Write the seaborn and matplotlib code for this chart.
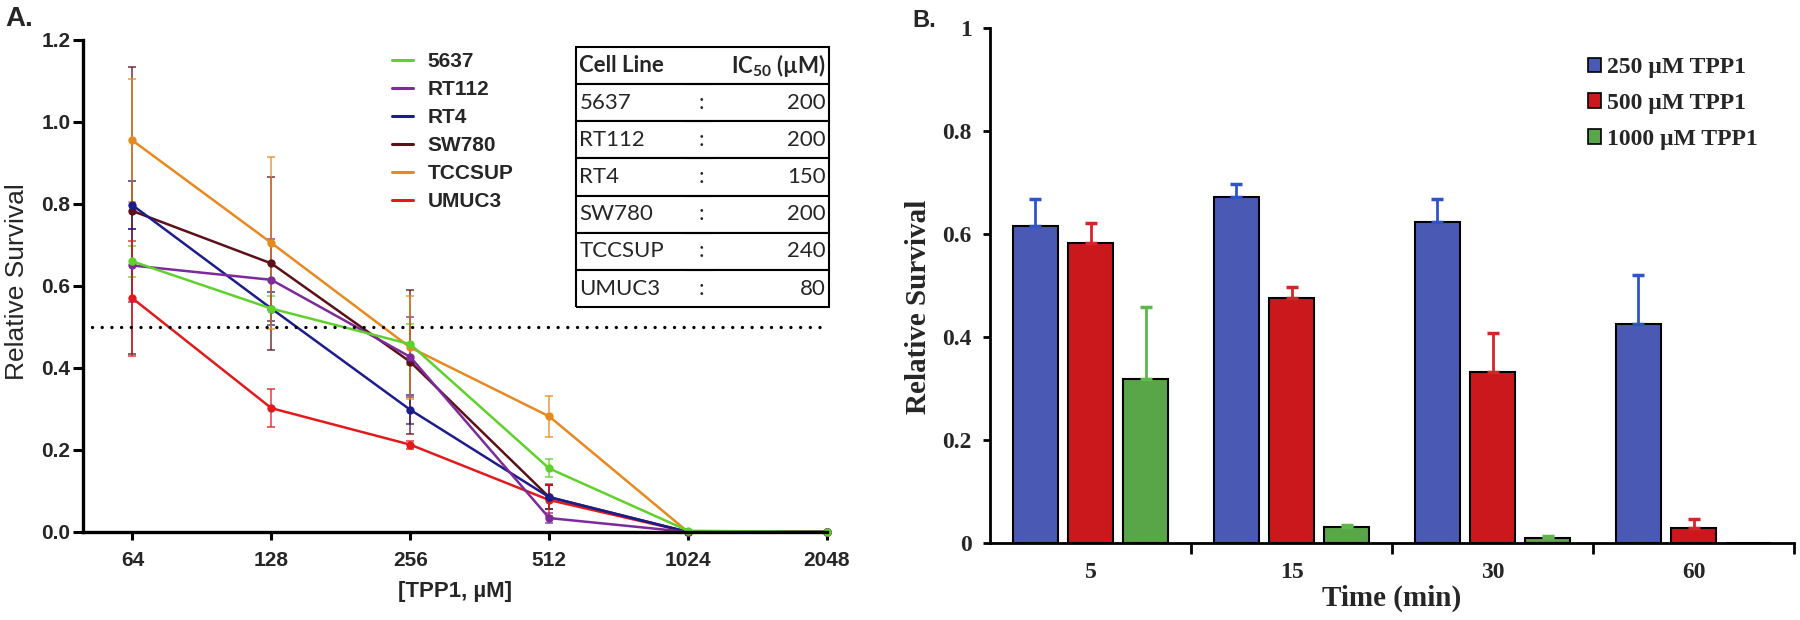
# Cell survival after TPP1 treatment: dose response (A) and time course (B)

import numpy as np
import pandas as pd
import matplotlib.pyplot as plt
import seaborn as sns
from matplotlib.lines import Line2D
from matplotlib.patches import Patch

sns.set_theme(style="ticks")
plt.rcParams['font.family'] = ['Liberation Sans', 'DejaVu Sans']
plt.rcParams['mathtext.fontset'] = 'custom'
plt.rcParams['mathtext.bf'] = 'Lato:bold'
plt.rcParams['mathtext.rm'] = 'Lato'

# --- Panel A data ---
conc = [64, 128, 256, 512, 1024, 2048]
cell_lines = ['5637', 'RT112', 'RT4', 'SW780', 'TCCSUP', 'UMUC3']
surv_5637 = [0.660, 0.545, 0.458, 0.155, 0.003, 0.0]
surv_rt112 = [0.650, 0.615, 0.427, 0.034, 0.0, 0.0]
surv_rt4 = [0.797, 0.545, 0.298, 0.085, 0.0, 0.0]
surv_sw780 = [0.783, 0.655, 0.415, 0.085, 0.0, 0.0]
surv_tccsup = [0.955, 0.705, 0.450, 0.282, 0.0, 0.0]
surv_umuc3 = [0.570, 0.302, 0.213, 0.078, 0.0, 0.0]
err_5637 = [0.037, 0.030, 0.050, 0.022, 0, 0]
err_rt112 = [0.090, 0.100, 0.097, 0.012, 0, 0]
err_rt4 = [0.058, 0.040, 0.035, 0.030, 0, 0]
err_sw780 = [0.350, 0.210, 0.175, 0.030, 0, 0]
err_tccsup = [0.150, 0.210, 0.125, 0.050, 0, 0]
err_umuc3 = [0.140, 0.046, 0.010, 0.040, 0, 0]
ic50 = [200, 200, 150, 200, 240, 80]
colors_a = ['#5fd12b', '#7d2a9a', '#1c1c8c', '#5c1018', '#e8891f', '#e31a1c']

# --- Panel B data ---
times = ['5', '15', '30', '60']
doses = ['250 µM TPP1', '500 µM TPP1', '1000 µM TPP1']
surv_250 = [0.616, 0.672, 0.623, 0.425]
surv_500 = [0.583, 0.476, 0.332, 0.029]
surv_1000 = [0.318, 0.031, 0.010, 0.0]
err_250 = [0.052, 0.025, 0.045, 0.095]
err_500 = [0.038, 0.021, 0.076, 0.018]
err_1000 = [0.140, 0.003, 0.003, 0.0]
colors_b = ['#4a5ab4', '#cb181c', '#58a647']
err_colors_b = ['#2f55c4', '#d3262a', '#5cb84a']

surv_a = [surv_5637, surv_rt112, surv_rt4, surv_sw780, surv_tccsup, surv_umuc3]
err_a = [err_5637, err_rt112, err_rt4, err_sw780, err_tccsup, err_umuc3]
df_a = pd.DataFrame({
    'conc': conc * len(cell_lines),
    'survival': sum(surv_a, []),
    'cell_line': [c for c in cell_lines for _ in conc],
})

surv_b = [surv_250, surv_500, surv_1000]
err_b = [err_250, err_500, err_1000]
df_b = pd.DataFrame({
    'time': times * len(doses),
    'survival': sum(surv_b, []),
    'dose': [d for d in doses for _ in times],
})

fig = plt.figure(figsize=(18, 6.2), dpi=100)
axA = fig.add_axes([0.04611, 0.14194, 0.41333, 0.79355])
axB = fig.add_axes([0.55, 0.12419, 0.44667, 0.83065])

# ---------------- Panel A ----------------
# draw in reverse so 5637 (green) ends up on top, as in the original
pal_a = dict(zip(cell_lines, colors_a))
sns.lineplot(data=df_a, x='conc', y='survival', hue='cell_line', hue_order=cell_lines[::-1],
             palette=pal_a, marker='o', markersize=6, markeredgewidth=0,
             linewidth=1.8, errorbar=None, legend=False, ax=axA)
for vals, errs, col in zip(surv_a, err_a, colors_a):
    keep = [i for i, e in enumerate(errs) if e > 0]
    axA.errorbar([conc[i] for i in keep], [vals[i] for i in keep],
                 yerr=[errs[i] for i in keep], fmt='none', ecolor=col,
                 elinewidth=1.1, capsize=3, capthick=1.1, zorder=1, alpha=0.85)
for ln in axA.lines:
    ln.set_clip_on(False)

axA.axhline(0.5, xmin=0.012, xmax=0.99, color='black', linewidth=2.4,
            linestyle=(0, (0.01, 2.9)), dash_capstyle='round')

axA.set_xscale('log', base=2)
axA.minorticks_off()
axA.set_xlim(50, 2048)
axA.set_ylim(0, 1.2)
axA.set_xticks(conc, labels=[str(c) for c in conc], fontsize=15, fontweight='bold')
yt = [0, 0.2, 0.4, 0.6, 0.8, 1.0, 1.2]
axA.set_yticks(yt, labels=[f'{v:.1f}' for v in yt], fontsize=15, fontweight='bold')
axA.tick_params(axis='x', length=6, width=2.2, pad=8, color='black')
axA.tick_params(axis='y', length=7, width=2.2, pad=2, color='black')
sns.despine(ax=axA)
for s in ['left', 'bottom']:
    axA.spines[s].set_linewidth(2.4)
    axA.spines[s].set_color('black')
axA.set_xlabel('[TPP1, µM]', fontsize=16, fontweight='bold')
axA.xaxis.set_label_coords(0.5, -0.100)
axA.set_ylabel('Relative Survival', fontsize=19)
axA.yaxis.set_label_coords(-0.072, 0.508)

handles_a = [Line2D([0], [0], color=c, linewidth=2.2) for c in colors_a]
axA.legend(handles_a, cell_lines, loc='upper left', bbox_to_anchor=(392 / 1800, 1 - 52 / 620),
           bbox_transform=fig.transFigure, frameon=False, borderpad=0, borderaxespad=0,
           handlelength=1.0, handletextpad=0.7, labelspacing=0.43,
           prop={'family': 'Liberation Sans', 'weight': 'bold', 'size': 15})

# IC50 table
rows = [['Cell Line', '', r'IC$_\mathbf{50}$ (µM)']] + \
       [[c, ':', str(v)] for c, v in zip(cell_lines, ic50)]
tbl = axA.table(cellText=rows, colWidths=[0.45, 0.09, 0.46],
                bbox=[0.6626, 0.457, 0.3401, 0.529])
tbl.auto_set_font_size(False)
edges = ['BTL', 'BT', 'BTR']
aligns = ['left', 'center', 'right']
for (r, c), cell in tbl.get_celld().items():
    cell.visible_edges = edges[c]
    cell.set_linewidth(1.5)
    cell.set_edgecolor('black')
    cell.PAD = 0.03
    cell.set_text_props(ha=aligns[c], fontsize=16, family=['Lato', 'DejaVu Sans'],
                        fontweight='bold' if r == 0 else 'normal')

# ---------------- Panel B ----------------
sns.barplot(data=df_b, x='time', y='survival', hue='dose', order=times, hue_order=doses,
            palette=colors_b, saturation=1, width=0.821, gap=0.182,
            edgecolor='black', linewidth=1.5, errorbar=None, legend=False, ax=axB)
for cont, errs, ecol in zip(axB.containers, err_b, err_colors_b):
    for bar, e in zip(cont, errs):
        if e <= 0:
            continue
        axB.errorbar(bar.get_x() + bar.get_width() / 2, bar.get_height(),
                     yerr=[[0], [e]], fmt='none', ecolor=ecol, elinewidth=2,
                     capsize=4, capthick=2.5, zorder=1)

axB.set_xlim(-0.5, 3.5)
axB.set_ylim(0, 1)
serif = {'family': 'Liberation Serif', 'weight': 'bold'}
axB.set_xticks(range(len(times)), labels=times, fontsize=17, **serif)
axB.set_xticks([0.5, 1.5, 2.5, 3.5], minor=True)
yb = [0, 0.2, 0.4, 0.6, 0.8, 1.0]
axB.set_yticks(yb, labels=['0', '0.2', '0.4', '0.6', '0.8', '1'], fontsize=17, **serif)
axB.tick_params(axis='x', which='major', length=0, pad=14)
axB.tick_params(axis='x', which='minor', length=8, width=2, color='black')
axB.tick_params(axis='y', length=5, width=2, pad=8, color='black')
sns.despine(ax=axB)
for s in ['left', 'bottom']:
    axB.spines[s].set_linewidth(2)
    axB.spines[s].set_color('black')
axB.set_xlabel('Time (min)', fontsize=21, **serif)
axB.xaxis.set_label_coords(0.5, -0.080)
axB.set_ylabel('Relative Survival', fontsize=21, **serif)
axB.yaxis.set_label_coords(-0.072, 0.458)

handles_b = [Patch(facecolor=c, edgecolor='black', linewidth=1.2) for c in colors_b]
axB.legend(handles_b, doses, loc='upper left', bbox_to_anchor=(1588 / 1800, 1 - 57 / 620),
           bbox_transform=fig.transFigure, frameon=False, borderpad=0, borderaxespad=0,
           handlelength=0.55, handleheight=0.55, handletextpad=0.25, labelspacing=0.63,
           prop={'family': 'Liberation Serif', 'weight': 'bold', 'size': 17})

fig.text(5 / 1800, 1 - 6 / 620, 'A.', ha='left', va='top', fontsize=20, fontweight='bold')
fig.text(912 / 1800, 1 - 9 / 620, 'B.', ha='left', va='top', fontsize=17, fontweight='bold')

fig.savefig('out.png', dpi=100)
